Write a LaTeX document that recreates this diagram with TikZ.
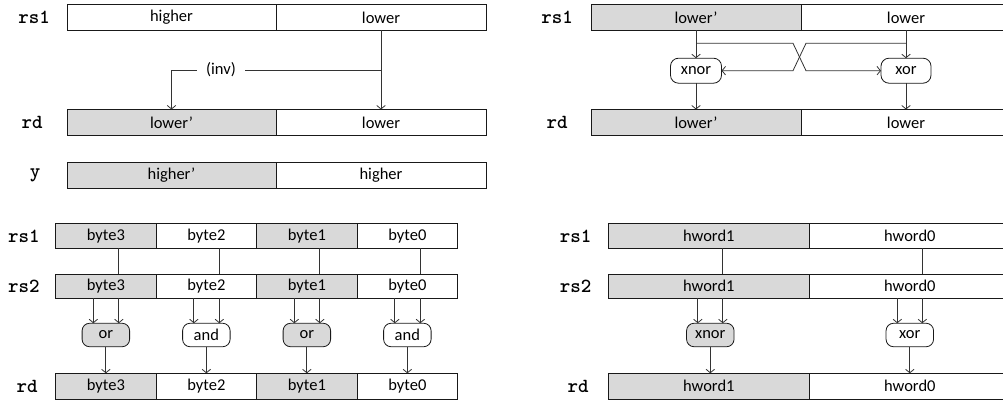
\documentclass[tikz,border=0pt]{standalone}
\usepackage{fontspec}
\setmainfont{Carlito}
\usetikzlibrary{arrows.meta,calc}

\tikzset{
  cell/.style={draw=black!90, line width=0.8pt, minimum height=26pt, inner sep=0pt, outer sep=0pt, font=\fontsize{16.5}{18}\selectfont},
  hcell/.style={cell, fill=black!15},
  op/.style={draw=black!90, line width=0.8pt, rounded corners=7.5pt, minimum width=47.5pt, minimum height=23.5pt, inner sep=0pt, outer sep=0pt, font=\fontsize{16.5}{18}\selectfont},
  hop/.style={op, fill=black!15},
  reg/.style={font=\fontsize{20}{22}\selectfont\ttfamily\bfseries},
  wire/.style={line width=0.8pt, draw=black!80},
  arr/.style={wire, -{Straight Barb[length=3.5pt, width=8.5pt]}},
}

\begin{document}
\begin{tikzpicture}[x=1pt, y=-1pt]
		%%%%% START %%%%%
		\useasboundingbox (0,0) rectangle (1003,403);
		\clip (0,0) rectangle (1003,403);
		
		%%%%% top left: rs1 -> rd, y
		\node[reg] (aRs1) at (34,17.5) {rs1};
		\node[cell, minimum width=209pt] (aHi) at (171.5,17.5) {higher};
		\node[cell, minimum width=210pt, anchor=west] (aLo) at (aHi.east) {lower};
		
		\node[reg] (aRd) at (32,122.5) {rd};
		\node[hcell, minimum width=209pt] (aRdHi) at (171.5,122.5) {lower’};
		\node[cell, minimum width=210pt, anchor=west] (aRdLo) at (aRdHi.east) {lower};
		
		\node[reg] (aY) at (35,175) {y};
		\node[hcell, minimum width=209pt] (aYHi) at (171.5,175) {higher’};
		\node[cell, minimum width=210pt, anchor=west] (aYLo) at (aYHi.east) {higher};
		
		\coordinate (aFork) at (381,70);
		\node[font=\fontsize{16.5}{18}\selectfont, inner xsep=9pt] (aInv) at (221,70) {(inv)};
		\draw[arr] (aLo.south) -- (aRdLo.north);
		\draw[wire] (aFork) -- (aInv.east);
		\draw[arr] (aInv.west) -| (aRdHi.north);
		
		%%%%% top right: crossed xnor / xor
		\node[reg] (bRs1) at (557,17.5) {rs1};
		\node[hcell, minimum width=210pt] (bHi) at (696,17.5) {lower’};
		\node[cell, minimum width=210pt, anchor=west] (bLo) at (bHi.east) {lower};
		
		\node[op, minimum width=51pt, minimum height=25pt, rounded corners=8pt] (bXnor) at (696,70.7) {xnor};
		\node[op, minimum width=50pt, minimum height=25pt, rounded corners=8pt] (bXor) at (906,70.7) {xor};
		
		\node[reg] (bRd) at (557,122.5) {rd};
		\node[hcell, minimum width=210pt] (bRdHi) at (696,122.5) {lower’};
		\node[cell, minimum width=210pt, anchor=west] (bRdLo) at (bRdHi.east) {lower};
		
		\coordinate (bTapL) at (696,43.3);
		\coordinate (bTapR) at (906,43.3);
		\coordinate (bMid) at (799.5,57);
		\draw[arr] (bHi.south) -- (bXnor.north);
		\draw[arr] (bLo.south) -- (bXor.north);
		\draw[arr] (bTapL) -- ($(bMid)+(-6.5,-13.7)$) -- ($(bMid)+(6.5,13.7)$) -- (bXor.west);
		\draw[arr] (bTapR) -- ($(bMid)+(6.5,-13.7)$) -- ($(bMid)+(-6.5,13.7)$) -- (bXnor.east);
		\draw[arr] (bXnor.south) -- (bRdHi.north);
		\draw[arr] (bXor.south) -- (bRdLo.north);
		
		%%%%% bottom left: bytes
		\node[reg] (cRs1) at (24,236) {rs1};
		\node[hcell, minimum width=100.5pt, minimum height=25pt] (cA3) at (105.85,236) {byte3};
		\node[cell, minimum width=100.5pt, minimum height=25pt, anchor=west] (cA2) at (cA3.east) {byte2};
		\node[hcell, minimum width=100.5pt, minimum height=25pt, anchor=west] (cA1) at (cA2.east) {byte1};
		\node[cell, minimum width=100.5pt, minimum height=25pt, anchor=west] (cA0) at (cA1.east) {byte0};
		
		\node[reg] (cRs2) at (24,286.3) {rs2};
		\node[hcell, minimum width=100.5pt, minimum height=24pt] (cB3) at (105.85,286.3) {byte3};
		\node[cell, minimum width=100.5pt, minimum height=24pt, anchor=west] (cB2) at (cB3.east) {byte2};
		\node[hcell, minimum width=100.5pt, minimum height=24pt, anchor=west] (cB1) at (cB2.east) {byte1};
		\node[cell, minimum width=100.5pt, minimum height=24pt, anchor=west] (cB0) at (cB1.east) {byte0};
		
		\node[hop] (cOp3) at (105.85,335) {or};
		\node[op] (cOp2) at (206.35,335) {and};
		\node[hop] (cOp1) at (306.85,335) {or};
		\node[op] (cOp0) at (407.35,335) {and};
		
		\node[reg] (cRd) at (27,386.3) {rd};
		\node[hcell, minimum width=100.5pt] (cC3) at (105.85,386.3) {byte3};
		\node[cell, minimum width=100.5pt, anchor=west] (cC2) at (cC3.east) {byte2};
		\node[hcell, minimum width=100.5pt, anchor=west] (cC1) at (cC2.east) {byte1};
		\node[cell, minimum width=100.5pt, anchor=west] (cC0) at (cC1.east) {byte0};
		
		\draw[wire] ($(cA3.south)+(13,0)$) -- ($(cB3.north)+(13,0)$);
		\draw[wire] ($(cA2.south)+(13,0)$) -- ($(cB2.north)+(13,0)$);
		\draw[wire] ($(cA1.south)+(13,0)$) -- ($(cB1.north)+(13,0)$);
		\draw[wire] ($(cA0.south)+(13,0)$) -- ($(cB0.north)+(13,0)$);
		
		\draw[arr] ($(cB3.south)+(-12.5,0)$) -- ($(cOp3.north)+(-12.5,0)$);
		\draw[arr] ($(cB3.south)+(13,0)$) -- ($(cOp3.north)+(13,0)$);
		\draw[arr] ($(cB2.south)+(-12.5,0)$) -- ($(cOp2.north)+(-12.5,0)$);
		\draw[arr] ($(cB2.south)+(13,0)$) -- ($(cOp2.north)+(13,0)$);
		\draw[arr] ($(cB1.south)+(-12.5,0)$) -- ($(cOp1.north)+(-12.5,0)$);
		\draw[arr] ($(cB1.south)+(13,0)$) -- ($(cOp1.north)+(13,0)$);
		\draw[arr] ($(cB0.south)+(-12.5,0)$) -- ($(cOp0.north)+(-12.5,0)$);
		\draw[arr] ($(cB0.south)+(13,0)$) -- ($(cOp0.north)+(13,0)$);
		
		\draw[arr] (cOp3.south) -- (cC3.north);
		\draw[arr] (cOp2.south) -- (cC2.north);
		\draw[arr] (cOp1.south) -- (cC1.north);
		\draw[arr] (cOp0.south) -- (cC0.north);
		
		%%%%% bottom right: half words
		\node[reg] (dRs1) at (575.5,236) {rs1};
		\node[hcell, minimum width=201pt, minimum height=25pt] (dA1) at (708.8,236) {hword1};
		\node[cell, minimum width=201pt, minimum height=25pt, anchor=west] (dA0) at (dA1.east) {hword0};
		
		\node[reg] (dRs2) at (575.5,286.3) {rs2};
		\node[hcell, minimum width=201pt, minimum height=24pt] (dB1) at (708.8,286.3) {hword1};
		\node[cell, minimum width=201pt, minimum height=24pt, anchor=west] (dB0) at (dB1.east) {hword0};
		
		\node[hop] (dOp1) at (710.3,335) {xnor};
		\node[op] (dOp0) at (909.8,335) {xor};
		
		\node[reg] (dRd) at (578,386.3) {rd};
		\node[hcell, minimum width=201pt] (dC1) at (708.8,386.3) {hword1};
		\node[cell, minimum width=201pt, anchor=west] (dC0) at (dC1.east) {hword0};
		
		\draw[wire] ($(dA1.south)+(14,0)$) -- ($(dB1.north)+(14,0)$);
		\draw[wire] ($(dA0.south)+(12.5,0)$) -- ($(dB0.north)+(12.5,0)$);
		
		\draw[arr] ($(dB1.south)+(-11,0)$) -- ($(dOp1.north)+(-12.5,0)$);
		\draw[arr] ($(dB1.south)+(14,0)$) -- ($(dOp1.north)+(12.5,0)$);
		\draw[arr] ($(dB0.south)+(-12.5,0)$) -- ($(dOp0.north)+(-12.5,0)$);
		\draw[arr] ($(dB0.south)+(12.5,0)$) -- ($(dOp0.north)+(12.5,0)$);
		
		\draw[arr] (dOp1.south) -- (dOp1.south |- dC1.north);
		\draw[arr] (dOp0.south) -- (dOp0.south |- dC0.north);
		
		%%%%% END %%%%%
	\end{tikzpicture}
\end{document}
